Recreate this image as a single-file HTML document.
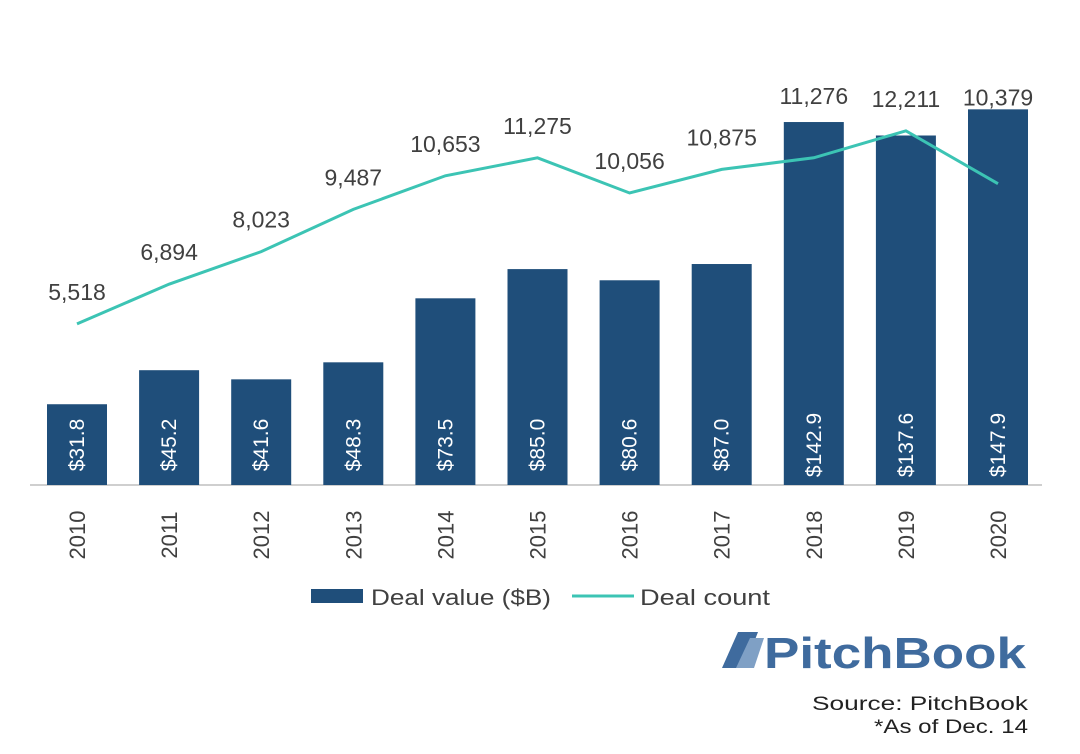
<!DOCTYPE html>
<html><head><meta charset="utf-8"><style>
body{margin:0;background:#fff;font-family:"Liberation Sans",sans-serif;}
svg text{font-family:"Liberation Sans",sans-serif;}
</style></head><body>
<svg id="chart" width="1080" height="749" xmlns="http://www.w3.org/2000/svg">
<line x1="30" y1="485" x2="1042" y2="485" stroke="#bfbfbf" stroke-width="1.5"/>
<g id="bars"></g><g id="line"></g><g id="labels"></g>
<g>
<rect x="311" y="589" width="52" height="14" fill="#1f4e7a"/>
<text x="371" y="605" font-size="22" fill="#404040" textLength="180" lengthAdjust="spacingAndGlyphs">Deal value ($B)</text>
<line x1="572" y1="596" x2="634" y2="596" stroke="#3cc4b4" stroke-width="3"/>
<text x="640" y="605" font-size="22" fill="#404040" textLength="130" lengthAdjust="spacingAndGlyphs">Deal count</text>
</g>
<g>
<path d="M722 668 L738 632 L758 632 L744 668 Z" fill="#3f6b9e"/>
<path d="M736 668 L750 638 L764 638 L754 668 Z" fill="#7fa0c5"/>
<text x="764" y="668" font-size="44" font-weight="bold" fill="#3f6b9e" textLength="262" lengthAdjust="spacingAndGlyphs">PitchBook</text>
</g>
<text x="1028" y="710" font-size="19" fill="#222" text-anchor="end" textLength="216" lengthAdjust="spacingAndGlyphs">Source: PitchBook</text>
<text x="1028" y="733" font-size="19" fill="#222" text-anchor="end" textLength="154" lengthAdjust="spacingAndGlyphs">*As of Dec. 14</text>
</svg>
<script>
const years=["2010","2011","2012","2013","2014","2015","2016","2017","2018","2019","2020"];
const dealValue=[31.8,45.2,41.6,48.3,73.5,85.0,80.6,87.0,142.9,137.6,147.9];
const dealCount=[5518,6894,8023,9487,10653,11275,10056,10875,11276,12211,10379];
const NS="http://www.w3.org/2000/svg";
const base=485;
const xc=i=>77+i*92.1;
const yv=v=>base-v*2.54;
const yc=v=>483-v*0.02884;
function mk(t,a,p){const e=document.createElementNS(NS,t);for(const k in a)e.setAttribute(k,a[k]);p.appendChild(e);return e;}
const gb=document.getElementById('bars'),gl=document.getElementById('line'),gt=document.getElementById('labels');
years.forEach((y,i)=>{
  const r=mk('rect',{x:xc(i)-30,y:yv(dealValue[i]),width:60,height:base-yv(dealValue[i]),fill:'#1f4e7a'},gb);
  
  
  const vt=mk('text',{x:0,y:0,'font-size':21,fill:'#fff','text-anchor':'middle',transform:`translate(${xc(i)+7},445) rotate(-90)`},gt);
  vt.textContent='$'+dealValue[i].toFixed(1);
  
  
  const yt=mk('text',{x:0,y:0,'font-size':22,fill:'#404040','text-anchor':'middle',transform:`translate(${xc(i)+8},535) rotate(-90)`},gt);
  yt.textContent=y;
  
  
  const pt=yc(dealCount[i]), bt=yv(dealValue[i]);
  let ly = bt<pt ? bt-18 : pt-24;
  if(bt<pt && pt-bt>50) ly=bt-4;
  const ct=mk('text',{x:xc(i),y:ly,'font-size':23,fill:'#404040','text-anchor':'middle'},gt);
  ct.textContent=dealCount[i].toLocaleString('en-US');
  
  
});
const pl=mk('polyline',{points:dealCount.map((v,i)=>xc(i)+','+yc(v)).join(' '),fill:'none',stroke:'#3cc4b4','stroke-width':3},gl);


</script>
</body></html>
